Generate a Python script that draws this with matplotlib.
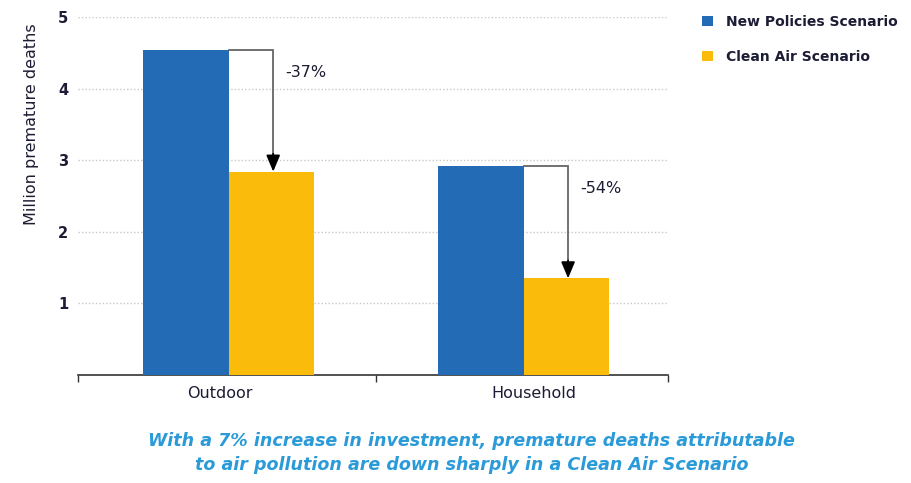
import matplotlib
matplotlib.use("Agg")
import matplotlib.pyplot as plt
import numpy as np

# Premature deaths attributable to air pollution (millions)
categories = ["Outdoor", "Household"]
series_names = ["New Policies Scenario", "Clean Air Scenario"]
new_policies = [4.54, 2.92]
clean_air = [2.84, 1.35]
change_labels = ["-37%", "-54%"]
y_ticks = [1, 2, 3, 4, 5]

BLUE = "#246BB5"
YELLOW = "#FBBB0B"
TEXT = "#1c1c34"
CAPTION = "#2A9AD8"

fig = plt.figure(figsize=(9.11, 4.83), dpi=100)
ax = fig.add_axes([0.0856, 0.2236, 0.6474, 0.7412])

x = np.arange(len(categories))
w = 0.29
ax.bar(x - w / 2, new_policies, width=w, color=BLUE, label=series_names[0], zorder=3)
ax.bar(x + w / 2, clean_air, width=w, color=YELLOW, label=series_names[1], zorder=3)

ax.set_xlim(-0.512, 1.488)
ax.set_ylim(0, 5)

# dotted horizontal gridlines
for v in y_ticks:
    ax.axhline(v, color="#c8c8c8", lw=1.0, ls=(0, (1, 1.5)), zorder=1)

ax.set_yticks(y_ticks)
ax.set_yticklabels([str(v) for v in y_ticks], fontsize=10.5, fontweight="bold", color=TEXT)
ax.tick_params(axis="y", length=0, pad=7)

# group boundaries as major ticks, category names as minor ticks
ax.set_xticks([-0.512, 0.5, 1.488])
ax.set_xticklabels(["", "", ""])
ax.set_xticks(x + np.array([-0.03, 0.035]), minor=True)
ax.set_xticklabels(categories, minor=True, fontsize=11.5, color=TEXT)
ax.tick_params(axis="x", which="major", length=5, direction="out", color="#333333", width=1)
ax.tick_params(axis="x", which="minor", length=0, pad=8)

for s in ["left", "right", "top"]:
    ax.spines[s].set_visible(False)
ax.spines["bottom"].set_color("#333333")
ax.spines["bottom"].set_linewidth(1.2)

ax.set_ylabel("Million premature deaths", fontsize=11.5, color=TEXT)
ax.yaxis.set_label_coords(-0.066, 0.70)

# change arrows from the New Policies bar to the Clean Air bar
for i in range(len(categories)):
    x0 = x[i]
    xa = x[i] + w / 2 + 0.005
    top = new_policies[i]
    bottom = clean_air[i]
    ax.plot([x0, xa, xa], [top, top, bottom + 0.22],
            color="#666666", lw=1.3, zorder=4, solid_joinstyle="miter")
    ax.annotate("", xy=(xa, bottom), xytext=(xa, bottom + 0.25),
                arrowprops=dict(arrowstyle="-|>,head_width=0.42,head_length=1.0",
                                color="black", lw=1.3, shrinkA=0, shrinkB=0),
                zorder=5)
    ax.text(xa + 0.04, top - 0.31, change_labels[i], fontsize=11.5,
            color=TEXT, ha="left", va="center")

# legend
handles, labels = ax.get_legend_handles_labels()
leg = fig.legend(handles, labels, loc="upper left", bbox_to_anchor=(0.757, 0.995),
                 frameon=False, fontsize=10, handlelength=0.8, handleheight=0.8,
                 handletextpad=0.9, labelspacing=1.5)
for t in leg.get_texts():
    t.set_fontweight("bold")
    t.set_color(TEXT)

# caption
fig.text(0.518, 0.062, "With a 7% increase in investment, premature deaths attributable\n"
         "to air pollution are down sharply in a Clean Air Scenario",
         ha="center", va="center", fontsize=12.6, fontweight="bold", style="italic",
         color=CAPTION, linespacing=1.45)

fig.savefig("out.png", dpi=100)
